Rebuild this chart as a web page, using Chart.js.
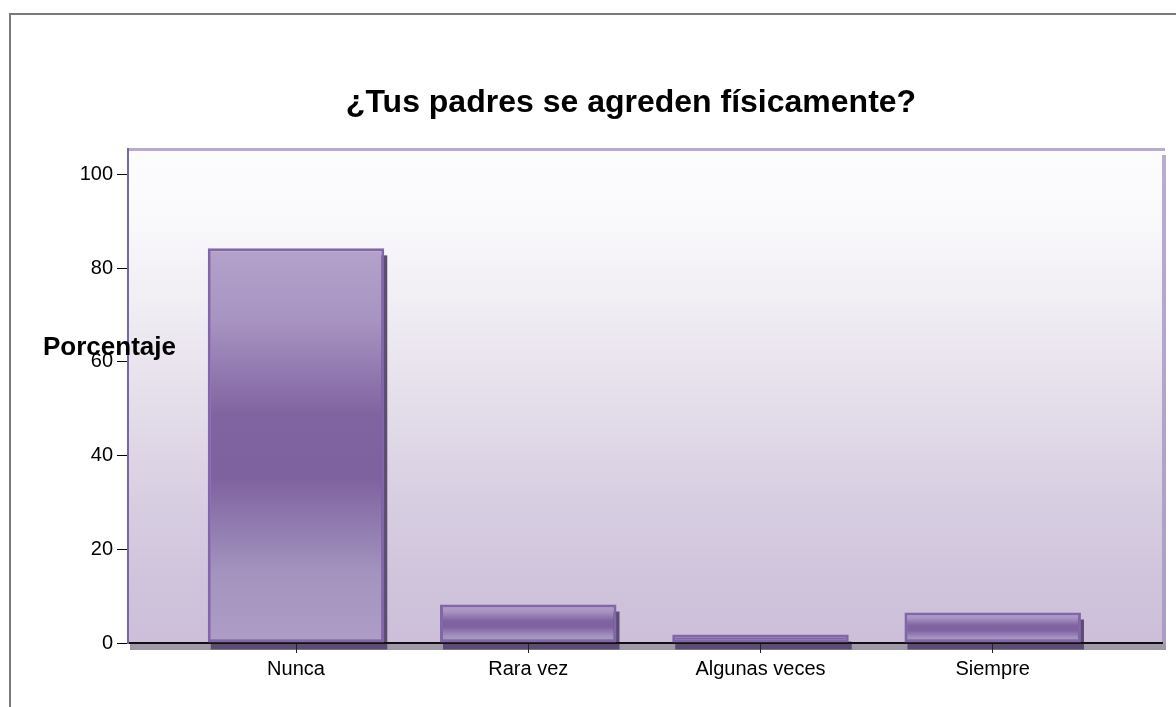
<!DOCTYPE html>
<html>
<head>
<meta charset="utf-8">
<script src="https://cdn.jsdelivr.net/npm/chart.js@4.4.1/dist/chart.umd.min.js"></script>
<style>
  html, body { margin: 0; padding: 0; background: #ffffff; }
  #wrap { position: relative; width: 1176px; height: 707px; overflow: hidden; }
  #c { position: absolute; left: 0; top: 0; }
  #frame { position: absolute; left: 9px; top: 13px; right: -5px; bottom: -5px;
           border-top: 2px solid #7a7a7a; border-left: 2px solid #7a7a7a; pointer-events: none; }
</style>
</head>
<body>
<div id="wrap">
  <canvas id="c" width="1176" height="707"></canvas>
  <div id="frame"></div>
</div>
<script>
// ---- data ----
const categories = ['Nunca', 'Rara vez', 'Algunas veces', 'Siempre'];
const percentages = [84.2, 8.2, 1.8, 6.5];
const yTickValues = [0, 20, 40, 60, 80, 100];
const chartTitle = '¿Tus padres se agreden físicamente?';
const yAxisTitle = 'Porcentaje';

const FONT = '"Liberation Sans", Arial, Helvetica, sans-serif';

function barGradient(context) {
  const chart = context.chart;
  if (!chart.chartArea || context.type !== 'data') return '#8a70ac';
  const y = chart.scales.y;
  const top = y.getPixelForValue(context.parsed.y);
  const bot = y.getPixelForValue(0);
  if (!isFinite(top) || !isFinite(bot) || bot - top < 1) return '#8a70ac';
  const g = chart.ctx.createLinearGradient(0, top, 0, bot);
  g.addColorStop(0, '#b3a2ca');
  g.addColorStop(0.18, '#a894c2');
  g.addColorStop(0.42, '#8064a1');
  g.addColorStop(0.58, '#7e62a0');
  g.addColorStop(0.82, '#a393be');
  g.addColorStop(1, '#ae9dc6');
  return g;
}

const decorPlugin = {
  id: 'decor',
  beforeDraw(chart) {
    const { ctx, chartArea: a } = chart;
    ctx.save();
    // plot-area shadow (right strip and floor band)
    const sg = ctx.createLinearGradient(0, a.top, 0, a.bottom);
    sg.addColorStop(0, '#b9abd2');
    sg.addColorStop(1, '#ab9dc4');
    ctx.fillStyle = sg;
    ctx.fillRect(a.right, a.top + 6, 4, a.bottom - a.top);
    ctx.fillStyle = '#a09aa8';
    ctx.fillRect(a.left + 2, a.bottom, a.right - a.left + 2, 7);
    // plot background gradient
    const g = ctx.createLinearGradient(0, a.top, 0, a.bottom);
    g.addColorStop(0, '#fdfdfe');
    g.addColorStop(0.15, '#f9f8fb');
    g.addColorStop(0.3, '#f1eef4');
    g.addColorStop(0.5, '#e5dfeb');
    g.addColorStop(0.7, '#d8cfe2');
    g.addColorStop(0.9, '#cfc2db');
    g.addColorStop(1, '#cdbfd9');
    ctx.fillStyle = g;
    ctx.fillRect(a.left, a.top, a.right - a.left, a.bottom - a.top);
    // top border
    ctx.fillStyle = '#b9a9d3';
    ctx.fillRect(a.left, a.top - 1, a.right - a.left + 3, 3);
    // bar drop shadows
    const meta = chart.getDatasetMeta(0);
    ctx.fillStyle = '#5c4c72';
    meta.data.forEach(el => {
      const p = el.getProps(['x', 'y', 'base', 'width'], true);
      ctx.fillRect(p.x - p.width / 2 + 3, p.y + 7, p.width, p.base - p.y);
    });
    ctx.restore();
  },
  afterDraw(chart) {
    const { ctx } = chart;
    const y = chart.scales.y;
    ctx.save();
    ctx.font = 'bold 26px ' + FONT;
    ctx.fillStyle = '#000';
    ctx.textAlign = 'left';
    ctx.textBaseline = 'alphabetic';
    ctx.fillText(yAxisTitle, 43, y.getPixelForValue(61.5));
    ctx.restore();
  }
};

new Chart(document.getElementById('c'), {
  type: 'bar',
  data: {
    datasets: [{
      data: percentages.map((v, i) => ({ x: i, y: v })),
      backgroundColor: barGradient,
      borderColor: '#8365a9',
      borderWidth: 3,
      borderSkipped: false,
      barPercentage: 0.76,
      categoryPercentage: 1
    }]
  },
  options: {
    responsive: false,
    animation: false,
    devicePixelRatio: 1,
    layout: { padding: { left: 76, right: -10, top: 0, bottom: 0 } },
    plugins: {
      legend: { display: false },
      tooltip: { enabled: false },
      title: {
        display: true,
        text: chartTitle,
        color: '#000',
        font: { family: FONT, size: 32, weight: 'bold', lineHeight: 1.2 },
        padding: { top: 84, bottom: 26.6 }
      }
    },
    scales: {
      x: {
        type: 'linear',
        offset: false,
        min: -0.7235,
        max: 3.729,
        afterBuildTicks(scale) { scale.ticks = categories.map((c, i) => ({ value: i })); },
        afterFit(scale) { scale.height = 64; },
        ticks: {
          callback: (v) => categories[v],
          color: '#000',
          font: { family: FONT, size: 20 },
          padding: 4,
          maxRotation: 0,
          autoSkip: false
        },
        grid: { display: true, offset: false, drawOnChartArea: false, drawTicks: true, tickLength: 10, color: '#222', lineWidth: 1 },
        border: { display: true, color: '#111', width: 2 }
      },
      y: {
        min: 0,
        max: 105.4,
        afterBuildTicks(scale) { scale.ticks = yTickValues.map(v => ({ value: v })); },
        afterFit(scale) { scale.width = 52; },
        ticks: {
          color: '#000',
          font: { family: FONT, size: 20 },
          padding: 4
        },
        grid: { display: true, drawOnChartArea: false, drawTicks: true, tickLength: 11, color: '#000', lineWidth: 1 },
        border: { display: true, color: '#7a66a0', width: 2 }
      },
      yRight: {
        position: 'right',
        display: true,
        min: 0,
        max: 105.4,
        afterFit(scale) { scale.width = 24; },
        ticks: { display: false },
        grid: { display: false },
        border: { display: false }
      }
    }
  },
  plugins: [decorPlugin]
});
</script>
</body>
</html>
